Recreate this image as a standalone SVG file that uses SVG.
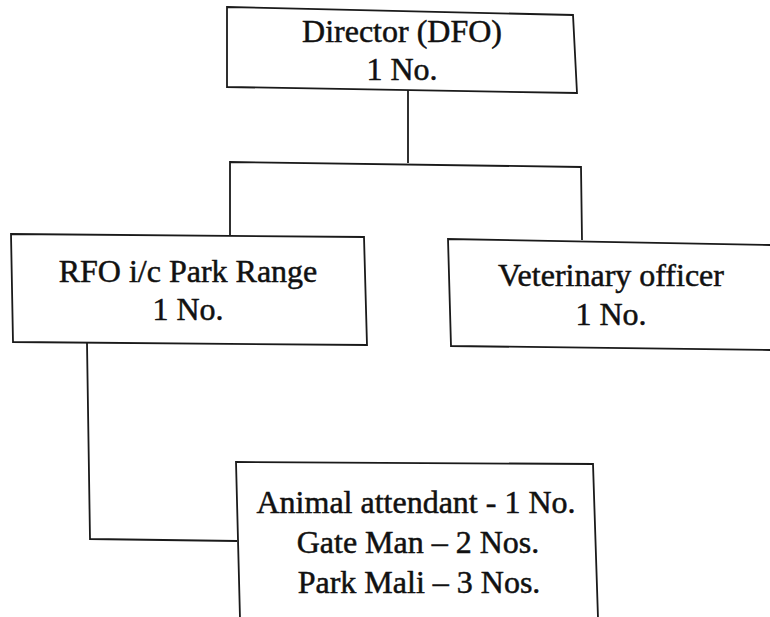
<svg xmlns="http://www.w3.org/2000/svg" width="770" height="617" viewBox="0 0 770 617">
<style>
.box{fill:none;stroke:#1a1a1a;stroke-width:1.8;stroke-linejoin:miter}
.con{fill:none;stroke:#1a1a1a;stroke-width:1.8}
text{font-family:'Liberation Serif','DejaVu Serif',serif;font-size:32px;fill:#111;stroke:#111;stroke-width:0.5;text-anchor:middle}
</style>
<rect width="770" height="617" fill="#ffffff"/>
<g id="connectors">
<path class="con" d="M408,90 L408,163"/>
<path class="con" d="M230,235 L230,162 L581,167 L582,240"/>
<path class="con" d="M87,343 L90,539 L237,541"/>
</g>
<g id="director">
<path class="box" d="M227,7 L573,15 L577,93 L227,87 Z"/>
<text x="402" y="42">Director (DFO)</text>
<text x="402" y="80">1 No.</text>
</g>
<g id="rfo">
<path class="box" d="M11,234 L364,237 L367,345 L13,342 Z"/>
<text x="188" y="282">RFO i/c Park Range</text>
<text x="188" y="320">1 No.</text>
</g>
<g id="vet">
<path class="box" d="M771,245 L448,239 L451,346 L771,350"/>
<text x="611" y="286">Veterinary officer</text>
<text x="611" y="325">1 No.</text>
</g>
<g id="staff">
<path class="box" d="M240,618 L236,462 L593,464 L598,618"/>
<text x="416" y="513">Animal attendant - 1 No.</text>
<text x="418" y="553">Gate Man – 2 Nos.</text>
<text x="419" y="593">Park Mali – 3 Nos.</text>
</g>
</svg>
